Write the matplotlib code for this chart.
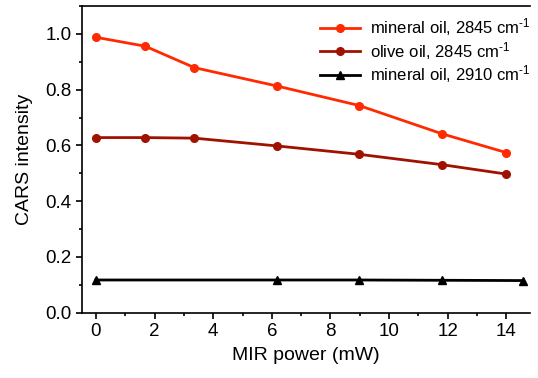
import matplotlib
matplotlib.use("Agg")
import matplotlib.pyplot as plt
from matplotlib.ticker import MultipleLocator

plt.rcParams['font.family'] = ['Liberation Sans', 'DejaVu Sans']
plt.rcParams['mathtext.fontset'] = 'custom'
plt.rcParams['mathtext.rm'] = 'Liberation Sans'
plt.rcParams['mathtext.it'] = 'Liberation Sans'

# data
power_2845 = [0, 1.68, 3.36, 6.18, 8.98, 11.79, 14.0]
mineral_2845 = [0.988, 0.956, 0.879, 0.813, 0.743, 0.642, 0.574]
olive_2845 = [0.628, 0.628, 0.626, 0.598, 0.568, 0.531, 0.497]
power_2910 = [0, 6.18, 8.98, 11.79, 14.57]
mineral_2910 = [0.117, 0.117, 0.117, 0.116, 0.115]

fig = plt.figure(figsize=(5.38, 3.78), dpi=100)
ax = fig.add_axes([0.152, 0.173, 0.833, 0.811])

unit = r' cm$^{\text{-}1}$'
ax.plot(power_2845, mineral_2845, color='#FF2A00', lw=2, marker='o', ms=5.5,
        label='mineral oil, 2845' + unit)
ax.plot(power_2845, olive_2845, color='#A01200', lw=2, marker='o', ms=5.5,
        label='olive oil, 2845' + unit)
ax.plot(power_2910, mineral_2910, color='black', lw=2, marker='^', ms=5.5,
        label='mineral oil, 2910' + unit)

ax.set_xlim(-0.48, 14.8)
ax.set_ylim(0, 1.1)
ax.xaxis.set_major_locator(MultipleLocator(2))
ax.xaxis.set_minor_locator(MultipleLocator(1))
ax.yaxis.set_major_locator(MultipleLocator(0.2))
ax.yaxis.set_minor_locator(MultipleLocator(0.1))
ax.yaxis.set_major_formatter(matplotlib.ticker.FormatStrFormatter('%.1f'))

ax.spines['right'].set_visible(False)
for s in ['left', 'bottom', 'top']:
    ax.spines[s].set_linewidth(1.2)
ax.tick_params(which='major', direction='out', length=4, width=1.2, labelsize=13.5)
ax.tick_params(which='minor', direction='out', length=2.5, width=1.2)
ax.tick_params(top=False, right=False)

ax.set_xlabel('MIR power (mW)', fontsize=14, labelpad=5)
ax.set_ylabel('CARS intensity', fontsize=14, labelpad=9)

ax.legend(loc='upper right', bbox_to_anchor=(1.025, 1.0), frameon=False,
          fontsize=12, handlelength=2.4, labelspacing=0.1, borderaxespad=0.2,
          handletextpad=0.6)

fig.savefig('out.png', dpi=100)
